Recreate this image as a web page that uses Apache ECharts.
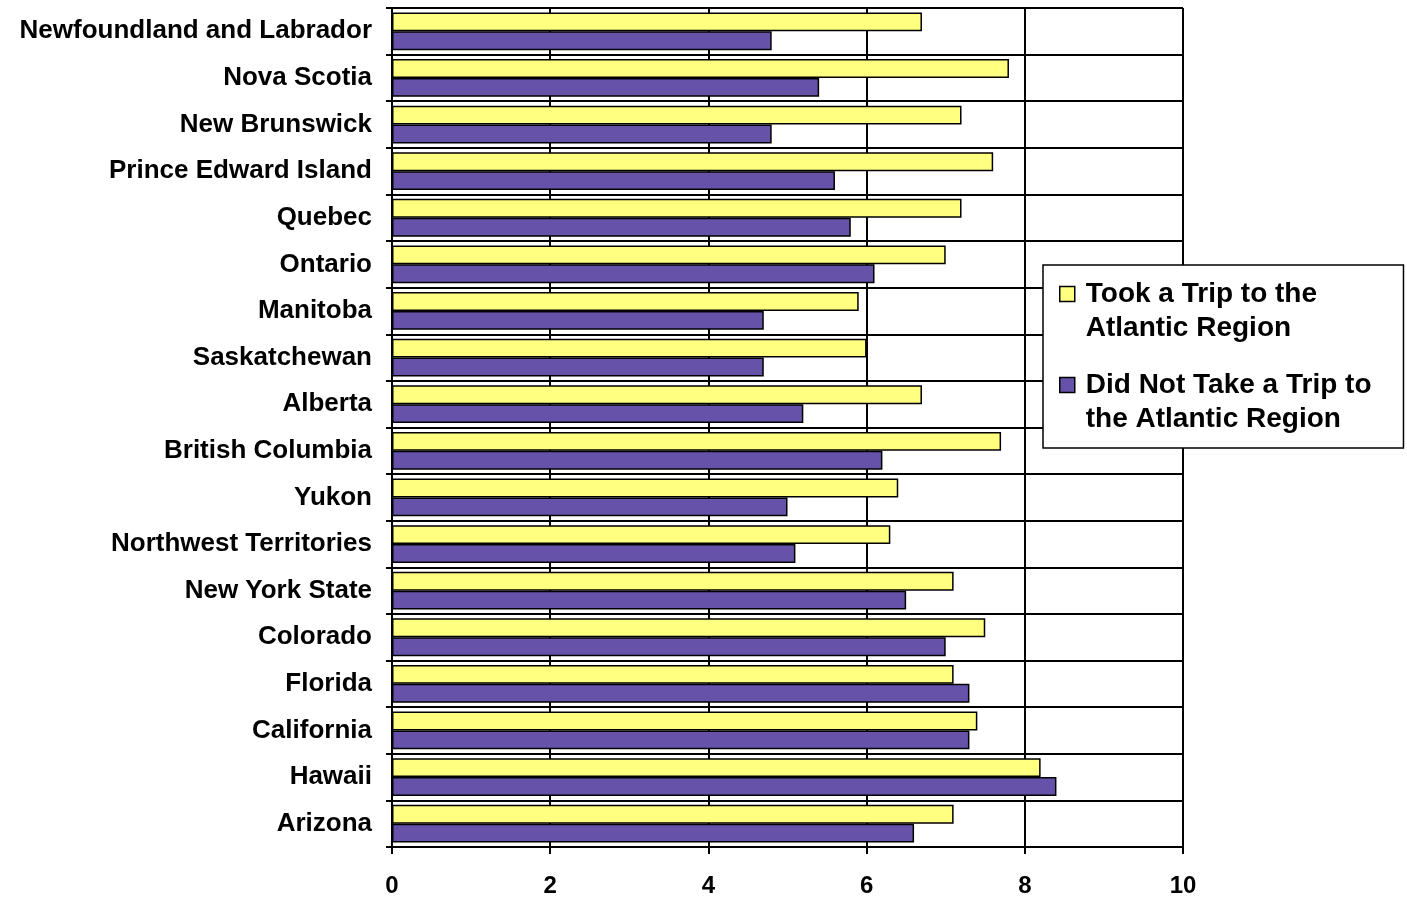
<!DOCTYPE html>
<html><head><meta charset="utf-8">
<script src="https://cdn.jsdelivr.net/npm/echarts@6/dist/echarts.min.js"></script>
<style>html,body{margin:0;padding:0;background:#fff}#c{width:1407px;height:898px}</style>
</head><body><div id="c"></div>
<script>
var categories = ["Newfoundland and Labrador","Nova Scotia","New Brunswick","Prince Edward Island","Quebec","Ontario","Manitoba","Saskatchewan","Alberta","British Columbia","Yukon","Northwest Territories","New York State","Colorado","Florida","California","Hawaii","Arizona"];
var tookTrip = [6.7,7.8,7.2,7.6,7.2,7.0,5.9,6.0,6.7,7.7,6.4,6.3,7.1,7.5,7.1,7.4,8.2,7.1];
var noTrip = [4.8,5.4,4.8,5.6,5.8,6.1,4.7,4.7,5.2,6.2,5.0,5.1,6.5,7.0,7.3,7.3,8.4,6.6];
var seriesNames = ["Took a Trip to the\nAtlantic Region","Did Not Take a Trip to\nthe Atlantic Region"];
var xTicks = {min:0,max:10,interval:2};

var chart = echarts.init(document.getElementById('c'));
var font = 'Arial, "Liberation Sans", sans-serif';
// square at top of a taller box so the icon lines up with the first text line
var iconPath = 'path://M0,0L15,0L15,15L0,15Z M0,49';
chart.setOption({
  animation:false,
  backgroundColor:'#fff',
  grid:{left:392,right:224,top:8,bottom:49},
  legend:{
    orient:'vertical', left:1043, top:265,
    backgroundColor:'#fff', borderColor:'#000', borderWidth:1.5,
    padding:[12,32,12,16], itemGap:23, itemWidth:15, itemHeight:49,
    icon:iconPath,
    textStyle:{fontFamily:font,fontWeight:'bold',fontSize:28,color:'#000',lineHeight:34,padding:[0,0,0,6]},
    data:[{name:seriesNames[0],itemStyle:{borderColor:'#000',borderWidth:1.5}},{name:seriesNames[1],itemStyle:{borderColor:'#000',borderWidth:1.5}}]
  },
  xAxis:{
    type:'value', min:xTicks.min, max:xTicks.max, interval:xTicks.interval,
    axisLine:{show:true,lineStyle:{color:'#000',width:2}},
    axisTick:{show:true,length:7,lineStyle:{color:'#000',width:2}},
    splitLine:{show:true,lineStyle:{color:'#000',width:2}},
    axisLabel:{fontFamily:font,fontWeight:'bold',fontSize:24,color:'#000',margin:27}
  },
  yAxis:{
    type:'category', data:categories, inverse:true,
    axisLine:{show:true,lineStyle:{color:'#000',width:2}},
    axisTick:{show:true,length:6,lineStyle:{color:'#000',width:2}},
    splitLine:{show:true,lineStyle:{color:'#000',width:2}},
    axisLabel:{fontFamily:font,fontWeight:'bold',fontSize:26,color:'#000',margin:20}
  },
  series:[
    {name:seriesNames[0],type:'bar',data:tookTrip,barGap:'0%',barCategoryGap:'19%',
     itemStyle:{color:'#FFFF80',borderColor:'#000',borderWidth:1.5}},
    {name:seriesNames[1],type:'bar',data:noTrip,
     itemStyle:{color:'#6652A8',borderColor:'#000',borderWidth:1.5}}
  ]
});
</script></body></html>
